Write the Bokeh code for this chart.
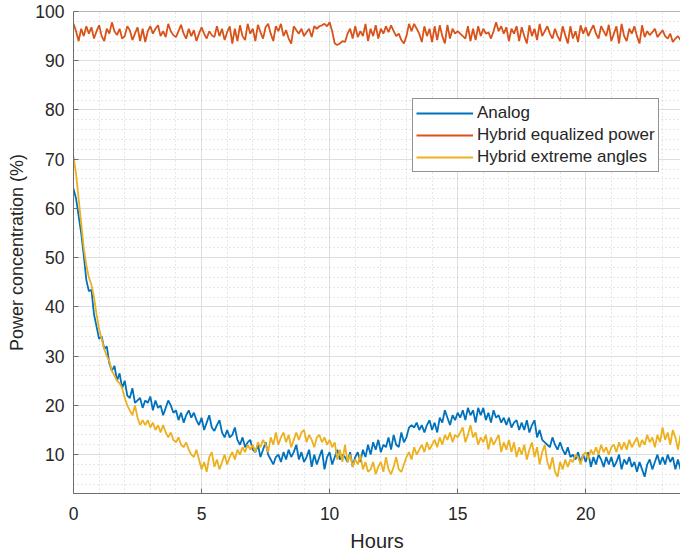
from bokeh.plotting import figure
from bokeh.models import Range1d, SingleIntervalTicker, Legend, LegendItem, Span
from bokeh.embed import file_html
from bokeh.resources import INLINE

step_hours = 0.1

analog = [
    64.0, 62.0, 58.5, 55.0, 50.5, 45.5, 43.2, 43.5, 38.5, 36.0,
    33.5, 34.0, 31.5, 32.0, 28.5, 27.0, 28.0, 25.0, 26.5, 23.5,
    25.0, 22.0, 21.5, 23.5, 20.5, 21.0, 21.5, 19.5, 21.0, 20.5,
    21.8, 19.0, 21.0, 19.5, 20.0, 18.0, 19.5, 21.0, 20.0, 18.5,
    19.0, 17.0, 18.5, 16.5, 18.0, 19.0, 17.5, 18.5, 17.0, 16.0,
    17.5, 15.0, 16.5, 18.0, 15.5, 14.8, 16.0, 17.0, 14.5, 13.5,
    15.0, 13.5, 14.0, 15.5, 13.0, 12.0, 13.5, 11.5, 12.5, 13.0,
    11.0, 10.5, 12.0, 9.5, 11.0, 12.5, 10.0, 9.0, 8.0, 9.5,
    10.0, 8.5, 10.5, 9.0, 11.0, 9.5, 10.5, 12.0, 9.0, 10.5,
    8.5, 9.5, 11.0, 7.5, 10.0, 8.0, 9.5, 11.0, 7.0, 9.5,
    10.5, 8.0, 9.5, 11.0, 9.0, 10.0, 9.5, 8.5, 10.5, 7.5,
    9.5, 10.5, 8.5, 11.0, 9.5, 12.0, 10.0, 12.5, 11.0, 13.0,
    10.5, 12.0, 11.5, 13.5, 11.0, 14.0, 12.0, 11.5, 14.5, 12.5,
    13.5, 15.5, 16.0, 15.5, 16.5, 15.0, 16.0, 14.5, 16.0, 17.0,
    15.0, 16.5, 14.5, 17.5, 16.5, 19.0, 17.5, 16.0, 18.0, 17.0,
    18.5, 17.5, 19.0, 17.0, 19.5, 18.0, 19.0, 16.5, 19.5, 18.0,
    19.5, 17.0, 18.5, 16.5, 19.0, 17.5, 18.0, 16.5, 17.5, 16.0,
    17.5, 15.5, 16.5, 17.0, 15.0, 16.5, 15.0, 17.0, 14.5, 16.0,
    17.0, 13.5, 15.0, 13.0, 12.5, 12.0, 11.5, 13.5, 12.0, 11.0,
    12.5, 11.0, 10.0, 11.5, 9.5, 10.0, 9.0, 10.5, 8.5, 10.0,
    8.5, 10.5, 7.5, 9.5, 8.0, 10.0, 9.0, 7.5, 9.5, 8.0,
    9.5, 7.5, 8.5, 10.0, 7.0, 9.0, 8.0, 9.5, 7.5, 8.5,
    6.5, 8.5, 7.0, 5.5, 8.0, 9.0, 7.0, 8.5, 10.0, 8.0,
    9.5, 8.0, 10.0, 8.5, 9.5, 7.0, 9.0, 7.0, 10.0, 11.0,
]

hybrid_equalized = [
    97.5, 96.0, 94.0, 96.5, 95.0, 97.0, 95.5, 96.8, 94.5, 96.0,
    97.2, 95.0, 94.0, 96.5, 95.5, 97.8, 96.0, 95.2, 96.5, 94.5,
    95.0, 97.0, 96.2, 94.2, 95.5, 96.8, 94.0, 96.5, 93.8, 96.0,
    97.0, 95.5, 96.5, 97.2, 95.0, 96.0, 94.8, 97.5, 96.0, 95.2,
    94.8, 96.0, 97.3, 95.5, 94.5, 96.5, 95.0, 96.2, 94.0, 95.5,
    96.8, 95.5, 94.5, 96.0, 95.2, 94.8, 97.0, 95.0, 96.5, 94.2,
    95.8, 97.0, 93.5, 96.5, 94.0, 97.2, 95.0, 94.2, 97.5, 95.5,
    96.5, 94.0, 97.3, 95.8, 94.5, 96.8, 97.5, 95.5, 94.0, 97.0,
    96.0, 97.5, 95.0, 96.2, 94.5, 93.5, 97.0, 96.2, 95.5, 96.5,
    95.0, 95.8, 96.5, 94.8, 97.0, 96.5, 97.0, 97.2, 97.5, 97.0,
    97.8, 96.0, 93.5, 93.2, 93.5, 94.0, 93.8, 95.5, 96.5, 94.5,
    97.0, 94.8, 96.0, 95.0, 97.5, 94.0, 96.5, 95.0, 97.2, 94.5,
    96.5, 95.5, 97.0, 95.8, 97.2, 96.0, 95.0, 95.5, 94.2, 93.5,
    95.0, 97.5, 96.0, 97.5, 96.5, 95.5, 93.8, 97.0, 95.0, 96.5,
    93.8, 97.0, 94.2, 97.2, 95.0, 93.5, 97.3, 94.5, 96.5, 95.5,
    96.0, 95.5, 95.0, 94.5, 97.0, 94.0, 96.5, 94.2, 97.0, 95.0,
    96.5, 95.5, 95.8, 94.5, 96.0, 97.8, 96.0, 97.0, 95.5, 96.8,
    94.0, 96.5, 95.5, 97.0, 94.0, 96.8, 95.0, 93.5, 97.2, 95.0,
    96.5, 94.2, 97.5, 95.0, 96.0, 97.0, 95.5, 94.5, 96.5, 95.0,
    94.0, 97.0, 95.2, 93.5, 97.0, 94.5, 96.0, 93.8, 97.2, 95.5,
    96.8, 95.0, 96.2, 97.2, 95.5, 94.5, 97.0, 96.0, 95.0, 97.3,
    94.0, 95.5, 97.0, 93.5, 97.5, 95.0, 94.0, 96.5, 95.5, 97.0,
    95.0, 93.5, 97.2, 94.8, 96.0, 95.2, 95.8, 96.5, 94.8, 95.5,
    96.2, 95.0, 94.5, 95.5, 93.8, 94.5, 95.0, 94.2, 94.5, 94.0,
]

hybrid_extreme = [
    70.5, 67.0, 62.0, 57.0, 52.0, 48.5, 46.0, 44.5, 42.0, 38.5,
    35.5, 33.5, 31.5, 30.0, 29.0, 27.0, 26.0, 25.0, 24.5, 23.5,
    21.5, 20.0, 19.0, 18.0, 20.0, 17.5, 16.0, 17.0, 16.0, 17.0,
    15.5, 16.5, 15.0, 16.0, 14.5, 16.0, 14.5, 13.5, 14.5, 13.0,
    12.5, 13.5, 12.0, 11.5, 12.5, 11.0, 10.0, 9.5, 11.0, 9.0,
    7.0, 8.5, 6.5, 9.5, 10.5, 7.5, 9.0, 7.0, 8.5, 10.0,
    8.0, 9.5, 10.5, 9.0, 11.0, 10.0, 11.5, 10.5, 12.0, 11.0,
    12.0, 10.5, 12.5, 11.5, 13.0, 12.0, 10.5, 13.5, 12.0, 14.5,
    12.0, 13.5, 14.5, 12.5, 14.0, 11.5, 13.0, 14.5, 13.0, 14.5,
    15.0, 12.5, 14.0, 13.0, 11.5, 13.5, 14.0, 12.5, 13.5, 12.0,
    13.0, 11.5, 12.5, 9.0, 11.0, 8.5, 12.0, 8.5, 10.0, 7.5,
    9.0, 8.0, 10.0, 7.0, 8.5, 6.5, 7.0, 8.5, 6.0, 7.5,
    8.5, 6.5, 9.5, 7.0, 6.0, 7.5, 9.5, 7.0, 6.5, 8.0,
    9.5, 10.5, 9.0, 11.5, 10.0, 11.0, 12.0, 10.5, 12.5, 11.0,
    12.0, 13.0, 11.5, 13.5, 12.0, 14.0, 13.0, 14.5, 12.5, 14.0,
    13.5, 14.5, 15.5, 12.5, 14.0, 16.0, 13.5, 14.5, 12.0, 13.5,
    12.5, 14.0, 11.0, 13.5, 12.0, 13.0, 14.0, 10.5, 12.5, 11.0,
    13.0, 10.5, 12.5, 9.5, 11.5, 10.0, 12.0, 9.0, 11.0, 12.5,
    9.5, 11.5, 8.0, 10.5, 12.0, 8.5, 7.0, 9.5, 6.5, 5.5,
    8.5, 7.0, 9.0, 7.5, 9.0, 8.5, 10.0, 9.5, 8.0, 10.0,
    10.5, 9.0, 11.0, 10.0, 11.5, 10.0, 12.0, 10.5, 11.5, 10.0,
    11.5, 12.0, 10.5, 12.5, 11.0, 12.5, 11.0, 13.0, 11.5, 12.5,
    13.5, 11.5, 13.0, 12.0, 14.0, 12.5, 13.5, 11.5, 14.0, 12.5,
    15.5, 13.0, 14.5, 12.0, 15.0, 13.5, 11.0, 14.0, 12.5, 12.0,
]

hours = [i * step_hours for i in range(len(analog))]

series_names = ["Analog", "Hybrid equalized power", "Hybrid extreme angles"]
series_colors = ["#0072BD", "#D95319", "#EDB120"]

FONT = "Liberation Sans"
TXT = "#262626"
AXC = "#6e6e6e"

p = figure(width=680, height=557, output_backend="svg", toolbar_location=None,
           x_range=Range1d(0, 23.7), y_range=Range1d(2.1, 100),
           min_border_left=73, min_border_right=0, min_border_top=11, min_border_bottom=64)
p.outline_line_color = None
p.background_fill_color = "white"

renderers = []
for ys, c in zip([analog, hybrid_equalized, hybrid_extreme], series_colors):
    r = p.line(hours, ys, line_color=c, line_width=1.8)
    renderers.append(r)

p.xaxis.ticker = SingleIntervalTicker(interval=5, num_minor_ticks=5)
p.yaxis.ticker = SingleIntervalTicker(interval=10, num_minor_ticks=5)

for ax in (p.xaxis[0], p.yaxis[0]):
    ax.major_tick_in = 5
    ax.major_tick_out = 0
    ax.minor_tick_in = 0
    ax.minor_tick_out = 0
    ax.axis_line_color = AXC
    ax.major_tick_line_color = AXC
    ax.major_label_text_font = FONT
    ax.major_label_text_font_size = "17.5px"
    ax.major_label_text_color = TXT
    ax.axis_label_text_font = FONT
    ax.axis_label_text_font_style = "normal"
    ax.axis_label_text_color = TXT

p.xaxis.axis_label = "Hours"
p.yaxis.axis_label = "Power concentration (%)"
p.xaxis.axis_label_text_font_size = "20px"
p.yaxis.axis_label_text_font_size = "18px"
p.xaxis.major_label_standoff = 13
p.yaxis.major_label_standoff = 9
p.xaxis.axis_label_standoff = 7
p.yaxis.axis_label_standoff = 5

p.add_layout(Span(location=100, dimension="width", line_color=AXC, line_width=1))

for g in (p.xgrid[0], p.ygrid[0]):
    g.grid_line_color = "#dedede"
    g.grid_line_width = 1
    g.minor_grid_line_color = "#cccccc"
    g.minor_grid_line_dash = "1 3"
    g.minor_grid_line_width = 1

legend = Legend(items=[LegendItem(label=n, renderers=[r]) for n, r in zip(series_names, renderers)],
                location=(339, 321))
legend.label_text_font = FONT
legend.label_text_font_size = "17px"
legend.label_text_color = TXT
legend.glyph_width = 57
legend.glyph_height = 22
legend.label_height = 22
legend.label_standoff = 4
legend.spacing = 0
legend.padding = 3
legend.margin = 0
legend.border_line_color = TXT
legend.border_line_width = 1
legend.background_fill_alpha = 1
p.add_layout(legend, "center")

open("out.html", "w").write(file_html(p, INLINE))
